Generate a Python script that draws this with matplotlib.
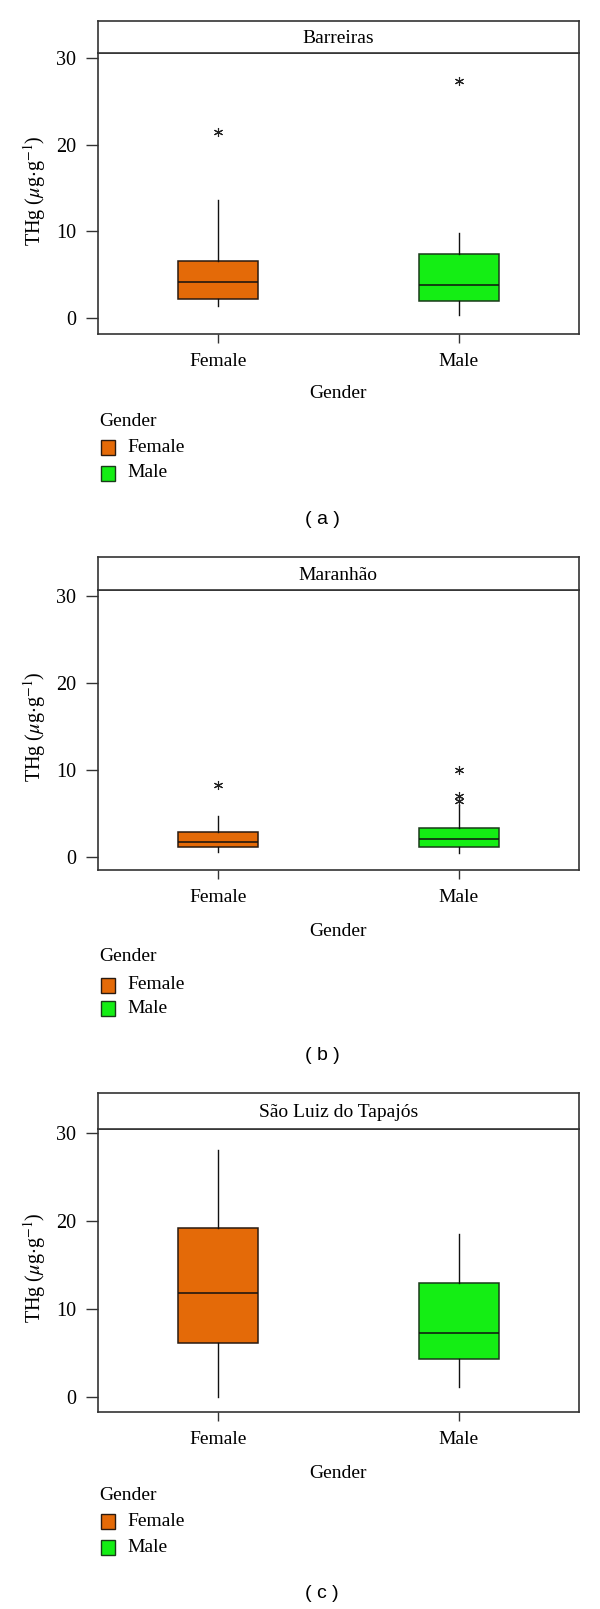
import matplotlib
matplotlib.use("Agg")
import matplotlib.pyplot as plt
from matplotlib.patches import Rectangle

plt.rcParams['font.family'] = ['Liberation Serif', 'DejaVu Serif']
plt.rcParams['mathtext.fontset'] = 'stix'

# ---------------- data ----------------
sites = ["Barreiras", "Maranhão", "São Luiz do Tapajós"]
captions = ["( a )", "( b )", "( c )"]
genders = ["Female", "Male"]
colors = ["#E46A08", "#14EE14"]
edge_colors = ["#2a1a10", "#1a3a1a"]

# per site: [Female, Male]
whislo = [[1.4, 0.3], [0.58, 0.39], [0.0, 1.14]]
q1 = [[2.2, 1.9], [1.15, 1.15], [6.16, 4.33]]
med = [[4.09, 3.78], [1.73, 2.0], [11.88, 7.27]]
q3 = [[6.55, 7.37], [2.81, 3.34], [19.22, 12.98]]
whishi = [[13.6, 9.76], [4.69, 6.0], [28.08, 18.6]]
fliers = [[[21.5], [27.4]], [[8.26], [9.99, 7.03, 6.45]], [[], []]]

yticks = [0, 10, 20, 30]

# ---------------- layout (pixels) ----------------
W, H = 600, 1609
fig = plt.figure(figsize=(W / 100, H / 100), dpi=100)

xl, xr = 97.7, 579.0
# strip_top, main_top, main_bottom, ylim
panels = [
    (20.7, 53.3, 334.0, (-1.885, 30.58)),
    (556.7, 590.0, 870.0, (-1.53, 30.73)),
    (1093.0, 1129.0, 1412.0, (-1.71, 30.5)),
]
# xlabel y, legend title y, female y, male y, caption y
texts_y = [
    (393.0, 421.0, 447.0, 473.0, 520.0),
    (931.7, 956.7, 985.0, 1008.0, 1055.0),
    (1474.0, 1495.5, 1521.7, 1547.5, 1594.0),
]

def fx(x):
    return x / W

def fy(y):
    return 1 - y / H

fs = 14
for i, site in enumerate(sites):
    st, mt, mb, ylim = panels[i]
    ax = fig.add_axes([fx(xl), fy(mb), (xr - xl) / W, (mb - mt) / H])
    sax = fig.add_axes([fx(xl), fy(mt), (xr - xl) / W, (mt - st) / H])

    stats = []
    for g in range(2):
        stats.append(dict(med=med[i][g], q1=q1[i][g], q3=q3[i][g],
                          whislo=whislo[i][g], whishi=whishi[i][g],
                          fliers=fliers[i][g], label=genders[g]))
    bp = ax.bxp(stats, positions=[1, 2], widths=0.333, showcaps=False,
                patch_artist=True, showfliers=True,
                boxprops=dict(linewidth=1.1),
                whiskerprops=dict(linewidth=1.0, color="#111111"),
                medianprops=dict(linewidth=1.1, color="#111111"),
                flierprops=dict(marker=(6, 2, 0), markersize=6.5,
                                markeredgecolor="#222222", markeredgewidth=0.8,
                                linestyle="none"))
    for g, b in enumerate(bp['boxes']):
        b.set_facecolor(colors[g])
        b.set_edgecolor(edge_colors[g])

    ax.set_xlim(0.5, 2.5)
    ax.set_ylim(*ylim)
    ax.set_yticks(yticks)
    ax.set_yticklabels([str(t) for t in yticks])
    ax.set_xticks([1, 2])
    ax.set_xticklabels(genders)
    ax.tick_params(axis='y', length=8.8, width=1.0, pad=6.5, labelsize=fs + 0.5,
                   color="#333333")
    ax.tick_params(axis='x', length=6.5, width=1.0, pad=7, labelsize=fs,
                   color="#333333")
    for sp in ax.spines.values():
        sp.set_linewidth(1.2)
        sp.set_color("#333333")

    sax.set_xticks([])
    sax.set_yticks([])
    for sp in sax.spines.values():
        sp.set_linewidth(1.2)
        sp.set_color("#333333")
    sax.text(0.5, 0.45, site, transform=sax.transAxes, ha='center',
             va='center', fontsize=fs)

    # y label
    fig.text(fx(35), fy((mt + mb) / 2 - 3),
             r'THg ($\mu$g$\cdot$g$^{-1}$)', rotation=90,
             ha='center', va='center', fontsize=fs + 0.5)

    xly, lty, fy_, my_, cy = texts_y[i]
    fig.text(fx((xl + xr) / 2), fy(xly), "Gender", ha='center', va='center',
             fontsize=fs)
    fig.text(fx(99), fy(lty), "Gender", ha='left', va='center', fontsize=fs)
    for g, yy in enumerate([fy_, my_]):
        r = Rectangle((fx(100.5), fy(yy + 7.5)), 14 / W, 15 / H,
                      transform=fig.transFigure, facecolor=colors[g],
                      edgecolor=edge_colors[g], linewidth=1.0)
        fig.patches.append(r)
        fig.text(fx(127), fy(yy), genders[g], ha='left', va='center',
                 fontsize=fs)
    fig.text(fx(322), fy(cy), captions[i], ha='center', va='center',
             fontsize=14, family=['Liberation Sans', 'DejaVu Sans'])

fig.savefig("out.png", dpi=100, facecolor="white")
